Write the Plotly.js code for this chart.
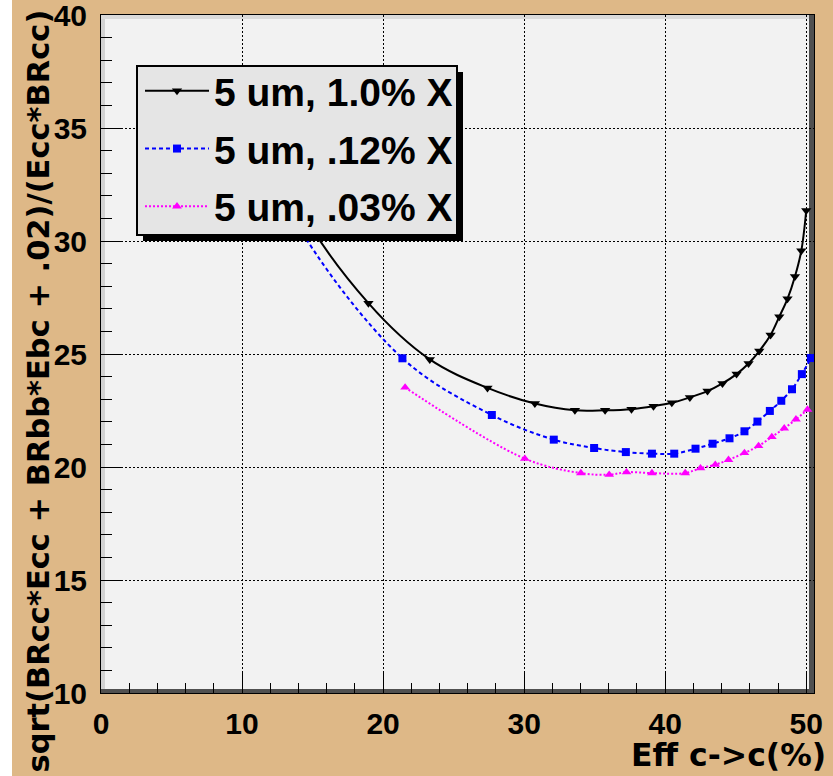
<!DOCTYPE html>
<html><head><meta charset="utf-8">
<script src="https://cdn.plot.ly/plotly-3.0.1.min.js"></script>
<style>
html,body{margin:0;padding:0;background:#ffffff;overflow:hidden}
#chart{position:absolute;left:12px;top:0;width:821px;height:776px}
</style>
</head><body><div id="chart"></div>
<script>
// ---- data ----
const seriesNames = ['5 um, 1.0% X', '5 um, .12% X', '5 um, .03% X'];

const effA = [11.5, 14.0, 18.96, 23.31, 27.40, 30.76, 33.6, 35.74, 37.61, 39.17, 40.47, 41.75, 43.0, 44.06, 45.06, 45.91, 46.67, 47.47, 48.09, 48.67, 49.2, 49.65, 50.0];
const sigA = [35.8, 31.6, 27.25, 24.76, 23.50, 22.81, 22.51, 22.51, 22.56, 22.69, 22.84, 23.08, 23.36, 23.70, 24.11, 24.58, 25.13, 25.84, 26.65, 27.44, 28.43, 29.57, 31.35];

const effB = [11.0, 13.5, 21.37, 27.71, 32.1, 34.96, 37.21, 39.06, 40.64, 42.15, 43.36, 44.56, 45.62, 46.54, 47.42, 48.23, 48.99, 49.69, 50.33];
const sigB = [35.5, 31.2, 24.81, 22.30, 21.21, 20.84, 20.66, 20.59, 20.59, 20.81, 21.03, 21.27, 21.58, 22.01, 22.48, 22.93, 23.44, 24.11, 24.82];

const effC = [21.56, 30.05, 34.02, 36.03, 37.26, 39.06, 41.42, 42.50, 43.55, 44.49, 45.62, 46.62, 47.56, 48.44, 49.27, 50.09];
const sigC = [23.52, 20.37, 19.73, 19.66, 19.77, 19.73, 19.73, 19.95, 20.10, 20.32, 20.62, 20.93, 21.33, 21.71, 22.11, 22.54];

const xTitle = 'Eff c->c(%)';
const yTitle = 'sqrt(BRcc*Ecc + BRbb*Ebc + .02)/(Ecc*BRcc)';
const xTickVals = [0, 10, 20, 30, 40, 50];
const yTickVals = [10, 15, 20, 25, 30, 35, 40];

// ---- styling ----
const tan = '#deb887';
const tickFont = {family: 'Liberation Sans, Arial, sans-serif', size: 30, color: '#000', weight: 'bold'};
const xTitleFont = {family: 'DejaVu Sans, sans-serif', size: 31.5, color: '#000', weight: 'bold'};
const yTitleFont = {family: 'DejaVu Sans, sans-serif', size: 30.5, color: '#000', weight: 'bold'};

function series(x, y, name, color, dash, width, symbol, size, grp) {
  return {
    type: 'scatter', mode: 'lines+markers', x: x, y: y, name: name,
    legendgroup: grp,
    line: {color: color, dash: dash, width: width, shape: 'spline', smoothing: 1},
    marker: {symbol: symbol, size: size, color: color, line: {width: 0}},
    cliponaxis: false
  };
}

const traces = [
  series(effA, sigA, seriesNames[0], '#000000', 'solid', 2, 'triangle-down', 9, 'a'),
  series(effB, sigB, seriesNames[1], '#0000ff', '4px,3px', 2, 'square', 8, 'b'),
  series(effC, sigC, seriesNames[2], '#ff00ff', '2px,2px', 2, 'triangle-up', 8.5, 'c')
];

const axisCommon = {
  ticks: 'inside', tickcolor: '#000', tickwidth: 1,
  showline: true, mirror: true, linecolor: '#000', linewidth: 1,
  showgrid: true, gridcolor: '#000', gridwidth: 1, griddash: '2px,2px',
  zeroline: false, tickfont: tickFont, automargin: false,
  ticklabeloverflow: 'allow'
};

// plot area in page pixels: left 101, top 15, width 713, height 678
const PL = 101, PT = 15, PW = 713, PH = 678;
const px2x = p => (p - PL) / PW;
const px2y = p => 1 - (p - PT) / PH;

const layout = {
  width: 821, height: 776,
  margin: {l: 89, r: 19, t: 15, b: 83, pad: 0},
  paper_bgcolor: tan, plot_bgcolor: '#f2f2f2',
  showlegend: true,
  xaxis: Object.assign({}, axisCommon, {
    range: [0, 50.55], tickvals: xTickVals, ticklen: 20,
    minor: {dtick: 2, tick0: 0, ticklen: 10, ticks: 'inside', tickcolor: '#000', tickwidth: 1, showgrid: false},
    ticklabelstandoff: 4
  }),
  yaxis: Object.assign({}, axisCommon, {
    range: [10, 40], tickvals: yTickVals, ticklen: 21,
    minor: {dtick: 1, tick0: 10, ticklen: 11, ticks: 'inside', tickcolor: '#000', tickwidth: 1, showgrid: false},
    ticklabelstandoff: 7
  }),
  legend: {
    x: px2x(140), y: px2y(59), xanchor: 'left', yanchor: 'top',
    bgcolor: 'rgba(0,0,0,0)', borderwidth: 0,
    font: {family: 'Liberation Sans, Arial, sans-serif', size: 39, color: '#000', weight: 'bold'},
    itemwidth: 64, tracegroupgap: 4, traceorder: 'grouped'
  },
  shapes: [
    // frame bevel: light on left/top, dark on right/bottom
    {type: 'rect', xref: 'paper', yref: 'paper', layer: 'between', xsizemode: 'pixel', xanchor: 0, x0: 0, x1: 4, y0: 0, y1: 1, fillcolor: '#d2d2d2', line: {width: 0}},
    {type: 'rect', xref: 'paper', yref: 'paper', layer: 'between', ysizemode: 'pixel', yanchor: 1, y0: -4, y1: 0, x0: 0, x1: 1, fillcolor: '#dadada', line: {width: 0}},
    {type: 'rect', xref: 'paper', yref: 'paper', layer: 'between', xsizemode: 'pixel', xanchor: 1, x0: -5, x1: 0, y0: 0, y1: 1, fillcolor: '#505050', line: {width: 0}},
    {type: 'rect', xref: 'paper', yref: 'paper', layer: 'between', ysizemode: 'pixel', yanchor: 0, y0: 0, y1: 4, x0: 0, x1: 1, fillcolor: '#505050', line: {width: 0}},
    // legend box drop shadow and box
    {type: 'rect', xref: 'paper', yref: 'paper', layer: 'above',
     x0: px2x(143), x1: px2x(463), y0: px2y(241), y1: px2y(72), fillcolor: '#000', line: {width: 0}},
    {type: 'rect', xref: 'paper', yref: 'paper', layer: 'above',
     x0: px2x(137), x1: px2x(457), y0: px2y(235), y1: px2y(66), fillcolor: '#e5e5e5', line: {color: '#000', width: 2}}
  ],
  annotations: [
    {text: xTitle, xref: 'paper', yref: 'paper', x: 1, y: 0, xanchor: 'right', yanchor: 'top',
     xshift: 14, yshift: -42, showarrow: false, font: xTitleFont},
    {text: yTitle, xref: 'paper', yref: 'paper', x: 0, y: 1, xanchor: 'center', yanchor: 'top',
     textangle: -90, xshift: -63, yshift: 7, showarrow: false, font: yTitleFont}
  ]
};

Plotly.newPlot('chart', traces, layout, {displayModeBar: false, staticPlot: true});
</script>
</body></html>
